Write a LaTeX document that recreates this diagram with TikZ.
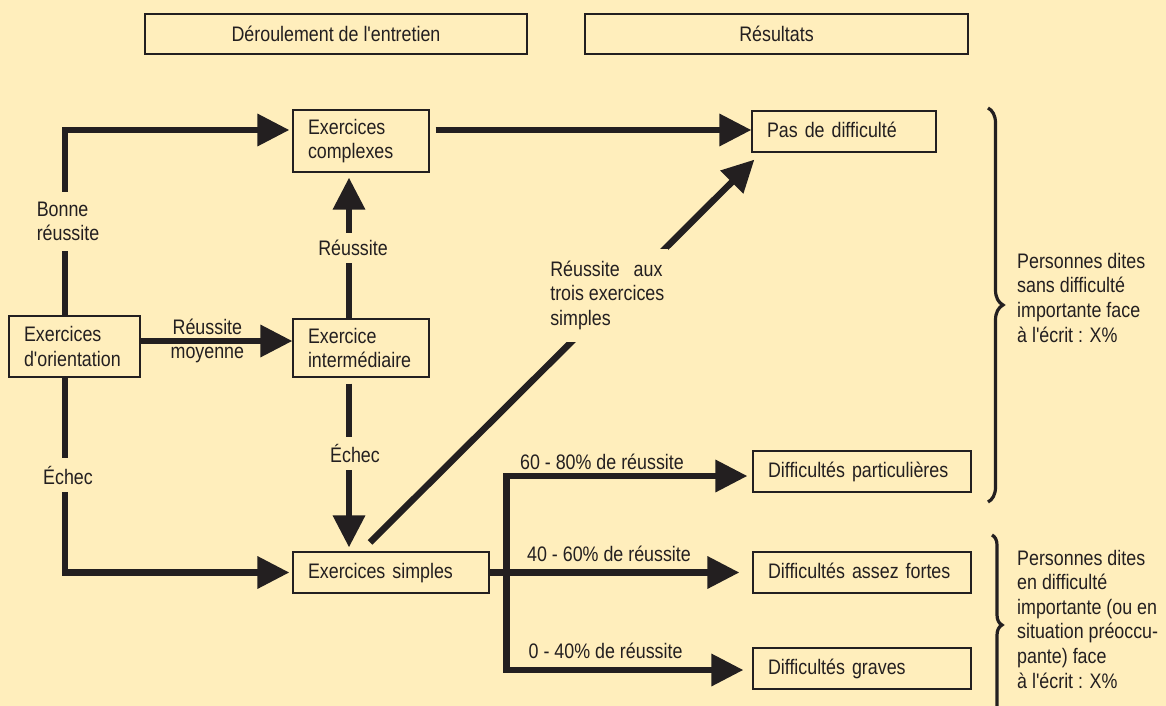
\documentclass[tikz,border=0pt]{standalone}
\usepackage{fontspec}
\setmainfont{Liberation Sans}[FakeStretch=0.85, Ligatures=TeXOff]
\usepackage{xcolor}
\usetikzlibrary{arrows.meta, decorations.pathreplacing}
\definecolor{paper}{RGB}{255,238,188}
\definecolor{ink}{RGB}{35,31,32}
\tikzstyle{box}    = [rectangle, draw=ink, line width=1.2pt, inner xsep=15pt, inner ysep=0pt, align=left, text=ink]
\tikzstyle{onebox} = [text height=15pt, text depth=4pt, minimum height=41pt]
\tikzstyle{header} = [rectangle, draw=ink, line width=1.2pt, minimum width=382pt, minimum height=40pt, text=ink]
\tikzstyle{arrow}  = [line width=6.5pt, draw=ink, -{Triangle[length=32pt,width=31pt]}]
\tikzstyle{tag}    = [fill=paper, text=ink, inner xsep=2pt, inner ysep=7pt, align=left]
\tikzstyle{curly}  = [decorate, line width=3.2pt, draw=ink]
\tikzset{every node/.style={font=\fontsize{21}{24.6}\selectfont, text=ink}}

\begin{document}
\begin{tikzpicture}[x=1pt, y=-1pt]
    \useasboundingbox (0,0) rectangle (1166,706);
    \fill[paper] (0,0) rectangle (1166,706);
    \clip (0,0) rectangle (1166,706);

    \node[header] (deroul) at (336,34) {Déroulement de l'entretien};
    \node[header, minimum width=383pt] (result) at (776.5,34) {Résultats};

    \node[box, text width=101pt, minimum height=61pt] (orient)    at (74.5,346.5) {Exercices\\d'orientation};
    \node[box, text width=106pt, minimum height=62pt] (complexes) at (361,141)    {Exercices\\complexes};
    \node[box, text width=106pt, minimum height=58pt] (interm)    at (361,348)    {Exercice\\intermédiaire};
    \node[box, onebox, text width=166pt] (simples) at (391,572.5) {Exercices simples};
    \node[box, onebox, text width=154pt] (pas)     at (844,131.5) {Pas de difficulté};
    \node[box, onebox, text width=188pt] (partic)  at (862,471.5) {Difficultés particulières};
    \node[box, onebox, text width=188pt] (assez)   at (862,572.5) {Difficultés assez fortes};
    \node[box, onebox, text width=188pt] (graves)  at (862,668.5) {Difficultés graves};

    \coordinate (om) at ([yshift=5.5pt]orient.east);
    \coordinate (cp) at ([xshift=6pt,yshift=11pt]complexes.east);
    \coordinate (ie) at ([xshift=-12pt,yshift=-6pt]interm.south);

    \draw[arrow] ([xshift=-9.5pt]orient.north) |- ([xshift=-3pt,yshift=11pt]complexes.west)
        node[tag, pos=0.254, xshift=3pt, inner ysep=10pt] {Bonne\\réussite};
    \draw[arrow] ([xshift=-9.5pt]orient.south) |- ([xshift=-3pt]simples.west)
        node[tag, pos=0.25, xshift=3pt, inner ysep=8pt] {Échec};
    \draw[arrow] (om) -- (om -| interm.west)
        node[pos=0.44, above] {Réussite}
        node[pos=0.44, below] {moyenne};
    \draw[arrow] ([xshift=-12pt]interm.north) -- ([xshift=-12pt,yshift=-5pt]complexes.south)
        node[tag, pos=0.5, xshift=4pt] {Réussite};
    \draw[arrow] (ie) -- ([yshift=4pt]ie |- simples.north)
        node[tag, pos=0.427, xshift=6pt] {Échec};
    \draw[arrow] (cp) -- (cp -| pas.west);
    \draw[arrow] ([xshift=-21pt,yshift=9pt]simples.north) -- ([xshift=3pt,yshift=-7pt]pas.south west)
        node[tag, pos=0.646, xshift=-11pt, inner xsep=4pt, inner ysep=12pt] {Réussite\hspace{14pt}aux\\trois exercices\\simples};

    \draw[arrow] (simples.east) -- ([xshift=-13pt]assez.west)
        node[pos=0.478, above, yshift=4pt] {40 - 60\% de réussite};
    \draw[arrow] ([xshift=17pt]simples.east) |- ([xshift=-5pt,yshift=-4.5pt]partic.west)
        node[pos=0.698, above] {60 - 80\% de réussite};
    \draw[arrow] ([xshift=17pt]simples.east) |- ([xshift=-9pt,yshift=-1.5pt]graves.west)
        node[pos=0.709, above, yshift=5pt] {0 - 40\% de réussite};

    \draw[curly, decoration={brace, amplitude=15pt}] (988,108) -- (988,502);
    \draw[curly, decoration={brace, amplitude=10pt}] (992,535) -- (992,715);

    \node[anchor=base west, align=left, inner xsep=0pt] (sansdiff) at (1017,342)
        {Personnes dites\\sans difficulté\\importante face\\à l'écrit : X\%};
    \node[anchor=base west, align=left, inner xsep=0pt] (endiff) at (1017,688)
        {Personnes dites\\en difficulté\\importante (ou en\\situation préoccu-\\pante) face\\à l'écrit : X\%};
\end{tikzpicture}
\end{document}
